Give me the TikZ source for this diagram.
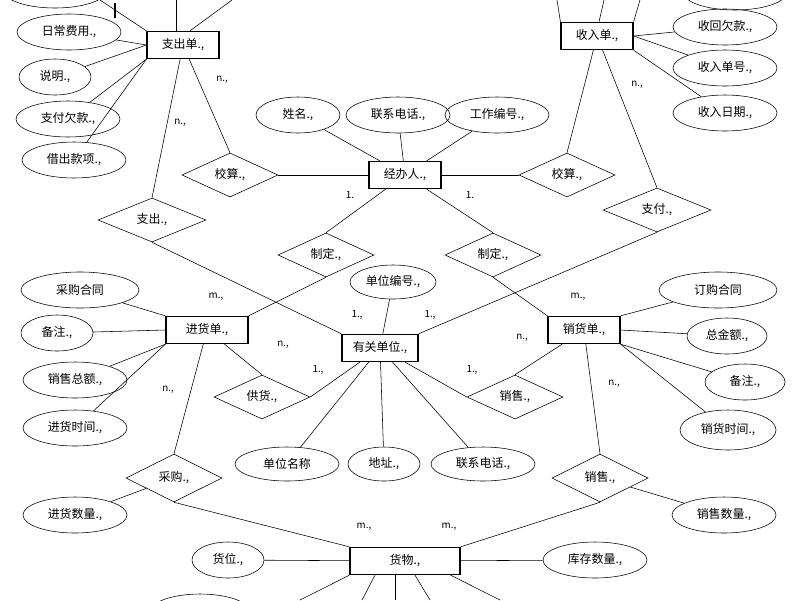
\documentclass[tikz,border=0pt]{standalone}
\usepackage{fontspec}
\setmainfont{Noto Sans CJK SC}
\usetikzlibrary{shapes.geometric}
\begin{document}
\begin{tikzpicture}[x=0.025cm,y=-0.025cm,font=\fontsize{8.5}{9}\selectfont,
  ent/.style={draw,thick,rectangle,minimum width=1.8cm,minimum height=0.68cm,inner sep=1pt},
  attr/.style={draw,ellipse,minimum width=2.6cm,minimum height=0.9cm,inner sep=0pt},
  rel/.style={draw,diamond,aspect=2.2,minimum width=2.4cm,minimum height=1.1cm,inner sep=0pt},
  card/.style={font=\fontsize{7}{8}\selectfont}]
\useasboundingbox (0,0) rectangle (800,600);
\node[ent] (zcd) at (183,45) {支出单.,};
\node[ent] (srd) at (597,36) {收入单.,};
\node[ent] (jbr) at (405,175) {经办人.,};
\node[ent,minimum width=2.05cm] (jhd) at (207,330) {进货单.,};
\node[ent] (xhd) at (584,330) {销货单.,};
\node[ent,minimum width=1.9cm] (ygdw) at (380,348) {有关单位.,};
\node[ent,minimum width=2.75cm] (hw) at (405,561) {货物.,};
\node[attr] (top1) at (55,-10) {};
\node[attr] (rcfy) at (69,32) {日常费用.,};
\node[attr,minimum width=1.8cm] (sm) at (55,77) {说明.,};
\node[attr] (zfqk) at (68,119) {支付欠款.,};
\node[attr] (jckx) at (74,160) {借出款项.,};
\node[attr] (top2) at (735,-8) {};
\node[attr] (shqk) at (725,27) {收回欠款.,};
\node[attr] (srdh) at (725,68) {收入单号.,};
\node[attr] (srrq) at (725,113) {收入日期.,};
\node[attr,minimum width=2.1cm] (xm) at (298,115) {姓名.,};
\node[attr] (lxdh) at (398,115) {联系电话.,};
\node[attr] (gzbh) at (497,115) {工作编号.,};
\node[attr,minimum width=2.15cm,minimum height=0.85cm] (dwbh) at (393,282) {单位编号.,};
\node[attr,minimum width=2.95cm] (cght) at (80,290) {采购合同};
\node[attr,minimum width=1.8cm] (bz1) at (57,333) {备注.,};
\node[attr] (xsze) at (75,380) {销售总额.,};
\node[attr] (jhsj) at (75,428) {进货时间.,};
\node[attr,minimum height=0.85cm] (dwmc) at (287,464) {单位名称};
\node[attr,minimum width=1.8cm,minimum height=0.85cm] (dz) at (384,464) {地址.,};
\node[attr,minimum height=0.85cm] (lxdh2) at (483,464) {联系电话.,};
\node[attr,minimum width=2.95cm] (dght) at (718,290) {订购合同};
\node[attr,minimum width=2cm] (zje) at (727,336) {总金额.,};
\node[attr,minimum width=2cm] (bz2) at (745,382) {备注.,};
\node[attr,minimum width=2.4cm,minimum height=1cm] (xhsj) at (728,430) {销货时间.,};
\node[attr] (jhsl) at (75,515) {进货数量.,};
\node[attr] (xssl) at (724,515) {销售数量.,};
\node[attr,minimum width=1.8cm] (hwei) at (228,560) {货位.,};
\node[attr] (kcsl) at (595,560) {库存数量.,};
\node[attr,minimum width=2.5cm] (bot1) at (200,612) {};
\node[rel] (jsL) at (230,175) {校算.,};
\node[rel,minimum width=2.7cm] (zc) at (152,220) {支出.,};
\node[rel] (jsR) at (567,175) {校算.,};
\node[rel,minimum width=2.7cm] (zf) at (657,210) {支付.,};
\node[rel] (zdL) at (326,255) {制定.,};
\node[rel] (zdR) at (493,255) {制定.,};
\node[rel] (gh) at (262,397) {供货.,};
\node[rel] (xs) at (515,397) {销售.,};
\node[rel,minimum height=1.2cm] (cg) at (174,478) {采购.,};
\node[rel,minimum height=1.2cm] (xsb) at (600,478) {销售.,};
\coordinate (c1) at (100,0); \coordinate (c2) at (176,0); \coordinate (c3) at (232,0);
\coordinate (c4) at (557,0); \coordinate (c5) at (604,0); \coordinate (c6) at (640,0);
\coordinate (c7) at (300,600); \coordinate (c8) at (362,600); \coordinate (c9) at (395,600);
\coordinate (c10) at (430,600); \coordinate (c11) at (500,600);
\draw (zcd.north west) -- (c1);
\draw (zcd.north) ++(-7,0) -- (c2);
\draw (zcd.north) ++(7,0) -- (c3);
\draw[very thick] (115,3) -- (115,18);
\draw (zcd.west) -- (rcfy); \draw (zcd.west) -- (sm); \draw (zcd.south west) -- (zfqk); \draw (zcd.south west) -- (jckx);
\draw (zcd) -- (jsL.north); \draw (zcd) -- (zc.north);
\draw (jsL) -- (jbr); \draw (jbr) -- (jsR); \draw (jsR.north) -- (srd);
\draw (jbr) -- (xm); \draw (jbr) -- (lxdh); \draw (jbr) -- (gzbh);
\draw (srd.north west) -- (c4); \draw (srd.north) ++(2,0) -- (c5); \draw (srd.north east) -- (c6);
\draw (srd.east) -- (shqk); \draw (srd.east) -- (srdh); \draw (srd.south east) -- (srrq);
\draw (srd) -- (zf.north);
\draw (jbr) -- (zdL.north); \draw (jbr) -- (zdR.north);
\draw (zdL.south) -- (jhd.north east); \draw (zdR.south) -- (xhd.north west);
\draw (zc.south) -- (ygdw.north west); \draw (zf.south) -- (ygdw.north east);
\draw (dwbh) -- (ygdw);
\draw (jhd) -- (gh.north); \draw (gh.east) -- (ygdw);
\draw (ygdw) -- (xs.west); \draw (xs.north) -- (xhd);
\draw (ygdw) -- (dwmc); \draw (ygdw) -- (dz); \draw (ygdw) -- (lxdh2);
\draw (jhd.north west) -- (cght); \draw (jhd.west) -- (bz1); \draw (jhd.south west) -- (xsze); \draw (jhd.south west) -- (jhsj);
\draw (jhd) -- (cg.north); \draw (cg) -- (jhsl); \draw (cg.south) -- (hw.north west);
\draw (xhd.north east) -- (dght); \draw (xhd.east) -- (zje); \draw (xhd.south east) -- (bz2); \draw (xhd.south east) -- (xhsj);
\draw (xhd) -- (xsb.north); \draw (xsb) -- (xssl); \draw (xsb.south) -- (hw.north east);
\draw (hw) -- (hwei); \draw (hw) -- (kcsl);
\draw (hw.south west) -- (c7); \draw (hw.south) ++(-30,0) -- (c8); \draw (hw.south) ++(-10,0) -- (c9);
\draw (hw.south) ++(10,0) -- (c10); \draw (hw.south east) ++(-10,0) -- (c11);
\node[card] at (222,80) {n.,}; \node[card] at (180,123) {n.,};
\node[card] at (637,85) {n.,};
\node[card] at (350,195) {1.}; \node[card] at (470,195) {1.};
\node[card] at (216,297) {m.,}; \node[card] at (578,297) {m.,};
\node[card] at (357,315) {1.,}; \node[card] at (430,315) {1.,};
\node[card] at (283,345) {n.,}; \node[card] at (522,338) {n.,};
\node[card] at (318,370) {1.,}; \node[card] at (472,370) {1.,};
\node[card] at (168,390) {n.,}; \node[card] at (614,384) {n.,};
\node[card] at (364,527) {m.,}; \node[card] at (449,527) {m.,};
\end{tikzpicture}
\end{document}
